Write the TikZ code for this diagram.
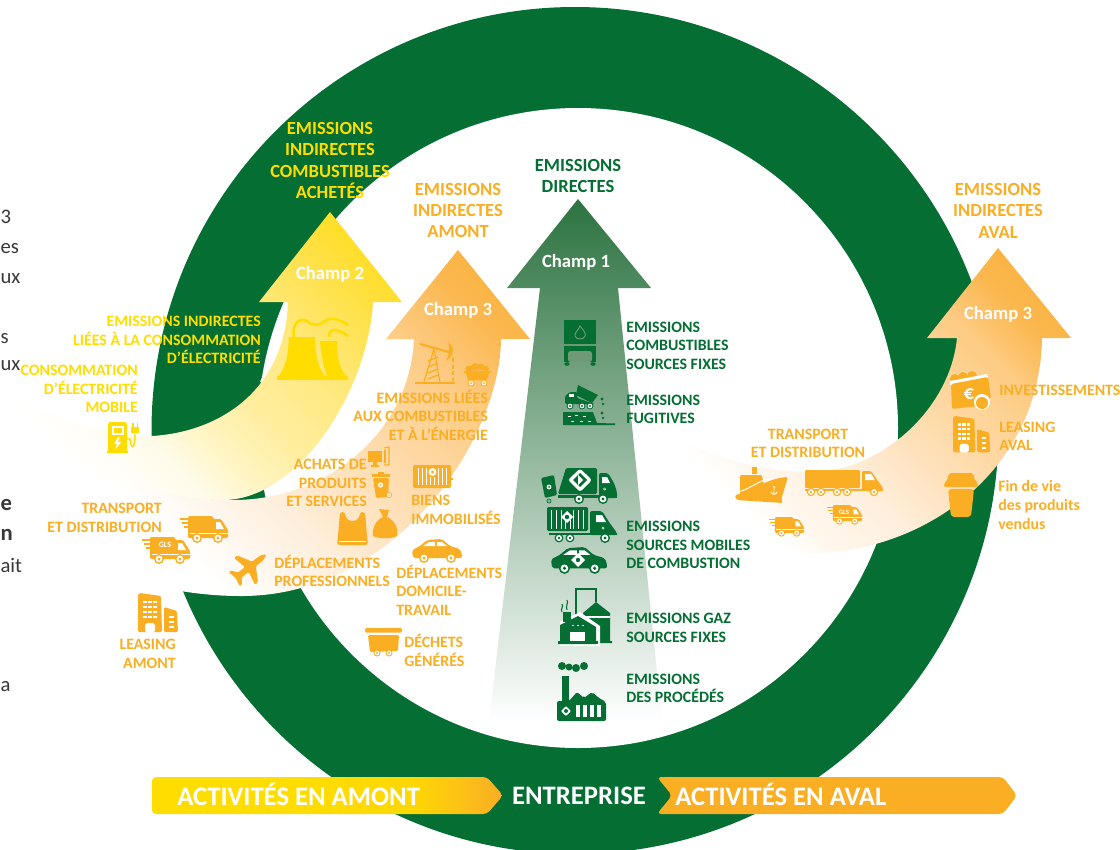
\documentclass[tikz,border=0pt]{standalone}
\usepackage{fontspec}
\setmainfont{Carlito}
\usetikzlibrary{calc}
\definecolor{ringgreen}{HTML}{046E33}
\definecolor{yelc}{HTML}{FFDD00}
\definecolor{orgc}{HTML}{F9AE24}
\definecolor{greentint}{HTML}{6E9A76}
\definecolor{g1}{HTML}{2C7340}\definecolor{g2}{HTML}{97B497}
\definecolor{y1}{HTML}{FFFBEA}\definecolor{y2}{HTML}{FFF4C0}\definecolor{y3}{HTML}{FFEEA0}
\definecolor{y4}{HTML}{FFE878}\definecolor{y5}{HTML}{FFE045}
\definecolor{o1}{HTML}{FFF6EC}\definecolor{o2}{HTML}{FEEFDD}\definecolor{o3}{HTML}{FEDDB0}
\definecolor{o4}{HTML}{FDCC85}\definecolor{o5}{HTML}{FBB850}\definecolor{o6}{HTML}{FAAE30}
\pgfdeclareverticalshading{yelband}{100bp}{color(0bp)=(white); color(26bp)=(white);
  color(36bp)=(y1); color(43bp)=(y2); color(50bp)=(y3); color(62bp)=(y4); color(72bp)=(y5);
  color(85bp)=(yelc); color(100bp)=(yelc)}
\pgfdeclareverticalshading{orgband}{100bp}{color(0bp)=(white); color(33bp)=(white);
  color(39bp)=(o1); color(44bp)=(o2); color(56bp)=(o3); color(68bp)=(o4); color(76bp)=(o5);
  color(86bp)=(o6); color(100bp)=(o6)}
\pgfdeclareverticalshading{orgbandr}{100bp}{color(0bp)=(white); color(29bp)=(white);
  color(34bp)=(o1); color(42bp)=(o2); color(54bp)=(o3); color(67bp)=(o4); color(74bp)=(o5);
  color(85bp)=(o6); color(100bp)=(o6)}
\pgfdeclarehorizontalshading{barfade}{100bp}{color(0bp)=(yelc); color(45bp)=(yelc);
  color(62bp)=(yelc!88!orgc); color(75bp)=(orgc); color(100bp)=(orgc)}
% small drawing helpers for the icons
\newcommand{\wheelat}[3]{\fill (#1,#2) circle (#3); \fill[white] (#1,#2) circle (#3*.68); \fill (#1,#2) circle (#3*.32);}
\newcommand{\badgeat}[3]{\fill[white,rounded corners=.6pt] (#1,#2-#3) -- (#1+#3,#2) -- (#1,#2+#3) -- (#1-#3,#2) -- cycle;
  \fill[ringgreen] (#1,#2) circle (#3*.4);}
\tikzset{
  vanpic/.pic={
    \fill[rounded corners=1pt] (8,0) -- (33,0) -- (33,3) -- (41,3) -- (48,14) -- (48,22) -- (8,22) -- cycle;
    \draw[line width=.8pt] (0,3) -- (9,3) (2,7) -- (9,7) (4,11) -- (9,11);
    \fill[white] (36,6) -- (40,6) -- (44,13) -- (36,13) -- cycle;
    \fill[white] (10,17) rectangle (48,18);
    \wheelat{17}{22}{5} \wheelat{38}{22}{5}
  },
  carpic/.pic={
    \fill[rounded corners=1.5pt] (1,19) -- (0,11) -- (8,7) -- (15,1) -- (30,0) -- (38,7) -- (48,10) -- (50,15) -- (50,19) -- cycle;
    \fill[white] (11,7) -- (17,3) -- (23,3) -- (23,7) -- cycle;
    \fill[white] (25,3) -- (30,3) -- (35,7) -- (25,7) -- cycle;
    \wheelat{12}{19}{5} \wheelat{39}{19}{5}
  },
  buildpic/.pic={
    \fill[rounded corners=1pt] (0,39) -- (0,1) -- (2,0) -- (23,3) -- (24,39) -- cycle;
    \fill[rounded corners=1pt] (26,39) -- (26,14) -- (39,18) -- (40,39) -- cycle;
    \foreach \wy in {8,13,18,23} \foreach \wx in {5,10,15} {\fill[white] (\wx,\wy) rectangle (\wx+3.5,\wy+2.4);}
    \foreach \wy in {23,28,33} {\fill[white] (31,\wy) rectangle (36,\wy+2.2);}
    \fill[white,rounded corners=2pt] (7,39.5) -- (7,30) -- (17,30) -- (17,39.5) -- cycle;
  },
  dumppic/.pic={
    \fill[rounded corners=1pt] (0,0) rectangle (37,4.5);
    \fill[rounded corners=1pt] (3,7) -- (34,7) -- (33,23) -- (5,24) -- cycle;
    \wheelat{12}{25}{3.5} \wheelat{24}{25}{3.5}
  },
  planepic/.pic={
    \fill[rounded corners=1pt] (21,0) -- (15,-2.8) -- (5,-3) -- (-3,-17) -- (-7,-17) -- (-4,-3) -- (-13,-3) -- (-17,-9) -- (-20,-9) -- (-18,0)
      -- (-20,9) -- (-17,9) -- (-13,3) -- (-4,3) -- (-7,17) -- (-3,17) -- (5,3) -- (15,2.8) -- cycle;
  },
  bagpic/.pic={
    \fill[rounded corners=2pt] (3,0) -- (8,0) .. controls (9,11) and (22,11) .. (23,0) -- (28,0) -- (30,24) -- (31,33) -- (0,33) -- (1,24) -- cycle;
    \draw[white,line width=.4pt] (2,29) -- (29,29);
  },
  sackpic/.pic={
    \fill (6,0) -- (16,1) -- (14,8) .. controls (22,11) and (26,21) .. (24,27) .. controls (18,30) and (6,30) .. (0,27) .. controls (-1,19) and (3,11) .. (10,8) -- cycle;
  },
  contpic/.pic={
    \fill[rounded corners=1pt] (0,0) rectangle (38,23);
    \fill (38,13) rectangle (40,15);
    \foreach \cx in {5,9,13,25,29,33} {\fill[white] (\cx,3) rectangle (\cx+1.2,20);}
    \foreach \cx in {17,21} {\fill[white] (\cx,12) rectangle (\cx+1.2,20);}
    \fill[white] (19.5,7) circle (4); \fill (19.5,7) circle (1.6);
  },
  binpic/.pic={
    \fill (0,2) -- (18,2) -- (18,5) -- (0,5) -- cycle;
    \fill (6,0) rectangle (12,2);
    \fill[rounded corners=1pt] (1,6) -- (17,6) -- (16,25) -- (4,26) -- cycle;
    \fill[white] (8.5,13) circle (2.6); \fill (8.5,13) circle (1);
    \wheelat{17}{23}{3}
  },
  comppic/.pic={
    \fill (0,4) rectangle (14,15);
    \fill (5,15) rectangle (9,18);
    \fill (3,18) rectangle (11,19.5);
    \draw[line width=.8pt] (16,1) -- (21,0) -- (21,18) -- (16,18);
    \fill (16,3) rectangle (18,16);
  },
  jackpic/.pic={
    \fill (0,39) rectangle (40,40.5);
    \draw[line width=1.6pt] (5,1) -- (34,9);
    \fill (33,0) .. controls (40,2) and (40,12) .. (31,18) .. controls (35,10) and (35,6) .. (33,0) -- cycle;
    \draw[line width=.9pt] (19,6) -- (9,39) (19,6) -- (25,39);
    \foreach \hy in {14,20,26,32} {\draw[line width=1pt] (13,\hy+4) -- (23,\hy);}
    \draw[line width=1.4pt,densely dashed] (38,15) -- (38,38);
  },
  cartpic/.pic={
    \fill (5,6) circle (3.5); \fill (11,4) circle (4); \fill (17,4) circle (3.5); \fill (22,6) circle (3);
    \fill (0,8) rectangle (27,10);
    \fill (2,10) -- (25,10) -- (23,17) -- (4,17) -- cycle;
    \wheelat{7}{20}{3.4} \wheelat{20}{20}{3.4}
  },
  towerpic/.pic={
    \fill (11.5,22) -- (38,22) .. controls (38,40) and (41,52) .. (48,61) -- (2,61) .. controls (9,50) and (12,38) .. (11.5,22) -- cycle;
    \fill (43,26) -- (60,26) .. controls (60,42) and (62,52) .. (69,61) -- (50,61) .. controls (46,50) and (44,38) .. (43,26) -- cycle;
    \fill (0,61) rectangle (71,65);
    \draw[line width=1.9pt] (17,22) .. controls (14,8) and (24,2) .. (30,6) .. controls (36,11) and (42,11) .. (48,6) .. controls (54,2) and (60,3) .. (71,10);
    \draw[line width=1.9pt] (52,22) .. controls (52,13) and (60,13) .. (71,21);
  },
  chargepic/.pic={
    \fill[rounded corners=2pt] (1,0) rectangle (20,31);
    \fill (0,28.5) rectangle (21,31);
    \fill[white] (4.5,4) rectangle (16.5,13);
    \fill (6.5,6) rectangle (14.5,11);
    \fill[white] (11,15) -- (7,22) -- (10,22) -- (8,28) -- (14,20) -- (11,20) -- (13,15) -- cycle;
    \draw[line width=1.1pt] (20,17) -- (23,17) .. controls (24,28) and (28,28) .. (28,12);
    \fill[rounded corners=.5pt] (24,5) rectangle (32,11);
    \fill (25,1) rectangle (26.5,5); \fill (29.5,1) rectangle (31,5);
  },
  boilpic/.pic={
    \fill (0,0) rectangle (32,24);
    \draw[greentint,line width=.7pt] (16,6) .. controls (20,11) and (22,13) .. (21,16) .. controls (20,20) and (12,20) .. (11,16) .. controls (10,13) and (14,11) .. (16,6) -- cycle;
    \fill (0,26) rectangle (32,42);
    \fill[greentint,rounded corners=2pt] (4,42) -- (4,31) -- (28,31) -- (28,42) -- cycle;
    \fill (3,44) ellipse (2.6 and 1.8); \fill (29,44) ellipse (2.6 and 1.8);
  },
  tipperpic/.pic={
    \fill (15,0) -- (35,10) -- (29,18) -- (13,10) -- cycle;
    \fill[rounded corners=1pt] (2,19) -- (2,11) -- (7,7) -- (14,7) -- (14,13) -- (32,19) -- cycle;
    \fill[white] (6,12) rectangle (11,9);
    \wheelat{7}{21}{3.4} \wheelat{19}{21}{3.4} \wheelat{27}{21}{3.4}
    \fill (0,27) -- (30,27) -- (34,38) -- (52,38.5) -- (52,40) -- (0,40) -- cycle;
    \foreach \dx/\dy in {5/31,12/30,20/31,8/36,17/36,25/36} {\fill[white] (\dx,\dy) rectangle (\dx+3,\dy+.9);}
    \fill (39,14) circle (1.7); \fill (40,19) circle (1.4); \fill (39,28) circle (1.7); \fill (40,33) circle (1.4);
  },
  garbpic/.pic={
    \fill[rounded corners=1pt] (26,0) -- (57,0) -- (57,26) -- (18,26) -- cycle;
    \fill[rounded corners=1.5pt] (59,5) -- (68,5) -- (74,15) -- (77,24) -- (77,30) -- (59,30) -- cycle;
    \fill (18,27) rectangle (77,30);
    \fill[white] (62,9) -- (67,9) -- (70,15) -- (62,15) -- cycle;
    \wheelat{39}{31}{5} \wheelat{63}{31}{5}
    \fill[white,rounded corners=2pt] (40,0.5) -- (52,12) -- (40,24) -- (28,12) -- cycle;
    \fill[ringgreen] (40,5) -- (47,12) -- (40,19) -- (33,12) -- cycle;
    \fill[white] (38,7) -- (38,17) -- (43,12) -- cycle;
    \fill[rounded corners=1pt] (1,10) -- (14,7) -- (17,27) -- (5,30) -- cycle;
    \fill[white] (9,19) circle (2.4); \fill (9,19) circle (1);
    \wheelat{9}{33}{2.4}
    \wheelat{64.5}{21}{2.2}
  },
  conttruckpic/.pic={
    \fill[rounded corners=1pt] (0,0) rectangle (41,24);
    \foreach \cx in {4,9,14,26,31,36} {\fill[white] (\cx,3) rectangle (\cx+1.4,22);}
    \foreach \cx in {18,23} {\fill[white] (\cx,13) rectangle (\cx+1.4,22);}
    \fill[rounded corners=1.5pt] (43,4) -- (55,4) -- (62,15) -- (70,26) -- (70,28) -- (43,28) -- cycle;
    \fill (2,26) rectangle (70,28);
    \fill[white] (49,8) -- (55,8) -- (59,15) -- (49,15) -- cycle;
    \wheelat{12}{31}{4.4} \wheelat{23}{31}{4.4} \wheelat{58}{31}{5}
    \wheelat{56}{21}{2.2}
  },
  gaspic/.pic={
    \draw[line width=1.1pt] (18,30) -- (18,1) -- (38,1) -- (38,14);
    \fill (25,25) -- (38,14) -- (52,25) -- (52,53) -- (54,53) -- (54,55) -- (25,55) -- cycle;
    \fill[white] (25,28) rectangle (52,29.5);
    \fill[white] (2,34) -- (22,24) -- (42,38) -- (42,58) -- (2,58) -- cycle;
    \fill (5,24) rectangle (13,34);
    \fill (2,37) -- (20,28) -- (38,39) -- (38,56) -- (2,56) -- cycle;
    \fill (0,53) rectangle (40,56);
    \fill[white] (12,44) rectangle (27,53);
    \foreach \sx in {14,19,24} {\fill[white] (\sx,36.5) rectangle (\sx+1.5,38);}
    \draw[line width=.8pt] (4,24) .. controls (2,21) and (6,19) .. (4,16) (9,22) .. controls (7,18) and (11,15) .. (9,12);
  },
  factpic/.pic={
    \fill (5,4) circle (4); \fill (12,5) circle (3.5); \fill (19,6) circle (4); \fill (27,4) circle (4);
    \fill (5,14) rectangle (12,44);
    \fill[rounded corners=1.5pt] (0,59) -- (0,39) -- (12,39) -- (20,30) -- (27,36) -- (35,30) -- (42,36) -- (49,40) -- (49,59) -- cycle;
    \badgeat{9}{49}{5}
    \foreach \bx in {19,26,33,40} {\fill[white] (\bx,43) rectangle (\bx+3.5,55);}
  },
  shippic/.pic={
    \fill (17,0) rectangle (22,7);
    \fill[rounded corners=1pt] (5,8) -- (27,8) -- (29,20) -- (5,28) -- cycle;
    \fill[rounded corners=1.5pt] (1,33) -- (0,28) .. controls (16,25) and (30,12) .. (53,10) -- (46,33) -- (48,36) -- cycle;
    \draw[white,line width=.7pt] (1,25.5) .. controls (14,23) and (22,14) .. (36,11);
    \draw[white,line width=.7pt] (39,21) -- (39,27) (36,25) .. controls (37,28) and (41,28) .. (42,25);
    \fill[white] (39,20) circle (1);
  },
  lorrypic/.pic={
    \fill[rounded corners=.8pt] (0,0) rectangle (55,18);
    \fill[rounded corners=1pt] (57,1) -- (66,1) -- (73,11) -- (78,18) -- (78,21) -- (57,21) -- cycle;
    \fill[white] (60,4) -- (66,4) -- (70,10) -- (60,10) -- cycle;
    \fill (0,19) rectangle (78,21);
    \wheelat{6}{22}{4.2} \wheelat{16}{22}{4.2} \wheelat{32}{22}{4.2} \wheelat{42}{22}{4.2} \wheelat{69}{22}{4.2}
  },
  walletpic/.pic={
    \fill (5,6) circle (5); \fill (13,4) circle (5); \fill (22,3) circle (5);
    \fill[white] (0,8) -- (37,1) -- (38,5) -- (0,12) -- cycle;
    \fill[rounded corners=1.5pt] (1,11) -- (38,4) -- (41,25) -- (30,26) -- (28,33) -- (2,36) -- cycle;
    \fill[white] (32,29) circle (8);
    \fill (32,30) circle (6);
    \node[inner sep=0pt,text=white,font=\fontsize{15}{15}\selectfont\bfseries] (euro) at (19,21) {€};
  },
  cuppic/.pic={
    \fill[rounded corners=1.5pt] (5,0) -- (29,0) -- (31,8) -- (34,10) -- (34,14) -- (0,14) -- (0,10) -- (3,8) -- cycle;
    \fill[rounded corners=2.5pt] (4,16) -- (30,16) -- (27,44) -- (7,44) -- cycle;
  }
}
\begin{document}
\begin{tikzpicture}[x=.75pt,y=-.75pt,
  hdtxt/.style={font=\fontsize{13.9}{16.1}\selectfont\bfseries, align=center, inner sep=0pt},
  lbl/.style={font=\fontsize{11.9}{13.9}\selectfont\bfseries, inner sep=0pt},
  lblr/.style={lbl, anchor=east, align=right},
  lbll/.style={lbl, anchor=west, align=left},
  champ/.style={font=\fontsize{14}{16}\selectfont\bfseries, text=white, inner sep=0pt},
  bartxt/.style={font=\fontsize{20}{22}\selectfont\bfseries, text=white, inner sep=0pt},
  pagetxt/.style={font=\fontsize{15.5}{18}\selectfont, text=black!78, anchor=west, inner sep=0pt},
  pagebf/.style={pagetxt, font=\fontsize{17}{20}\selectfont\bfseries}
]
  \useasboundingbox (0,0) rectangle (1120,849);
  \clip (0,0) rectangle (1120,849);

  % ring
  \fill[ringgreen] (575,430.5) circle (423.5);
  \fill[white] (578,428) circle (320);

  % arrows
  \shade[top color=g1, middle color=g2, bottom color=white]
    (578,199) -- (651,288) -- (618,288) -- (662,722) -- (489,722) -- (540,288) -- (507,288) -- cycle;
  \fill[white] (287,302) .. controls (282,325) and (272,355) .. (260,382) -- (292,382) -- cycle;
  \shade[shading=yelband, shading angle=-45]
    (330,212) -- (402,302) -- (373,302) .. controls (368,390) and (300,498) .. (225,500)
    .. controls (150,500) and (60,470) .. (0,430) -- (0,385)
    .. controls (50,420) and (110,437) .. (152,436) .. controls (220,432) and (285,390) .. (288,302)
    -- (259,302) -- cycle;
  \shade[shading=orgband, shading angle=-45]
    (458,250) -- (530,339) -- (501,339) .. controls (500,440) and (395,597) .. (240,596)
    .. controls (150,596) and (60,560) .. (0,510) -- (0,430)
    .. controls (60,470) and (160,500) .. (233,500) .. controls (330,500) and (410,430) .. (414,339)
    -- (386,339) -- cycle;
  \shade[shading=orgbandr, shading angle=-45]
    (998,248) -- (1071,338) -- (1042,338) .. controls (1040,470) and (925,553) .. (810,553)
    .. controls (750,553) and (690,530) .. (640,490) -- (640,420)
    .. controls (700,455) and (760,472) .. (810,472) .. controls (880,472) and (950,410) .. (957,338)
    -- (927,338) -- cycle;

  % the text of the page, cut by the picture
  \node[pagetxt] (pa) at (.3,217) {3};
  \node[pagetxt] (pb) at (.3,249) {es};
  \node[pagetxt] (pc) at (.3,279) {ux};
  \node[pagetxt] (pd) at (.3,339) {s};
  \node[pagetxt] (pe) at (.3,366) {ux};
  \node[pagebf] (pf) at (.3,505) {e};
  \node[pagebf] (pg) at (.3,535) {n};
  \node[pagetxt] (ph) at (.3,565) {ait};
  \node[pagetxt] (pi) at (.3,687) {a};

  % yellow icons and texts
  \pic[color=yelc] at (277,315) {towerpic};
  \pic[color=yelc] at (107,422) {chargepic};
  \node[hdtxt,text=yelc] (ind2) at (330,160.5) {EMISSIONS\\INDIRECTES\\COMBUSTIBLES\\ACHETÉS};
  \node[champ] (ch2) at (330,274.5) {Champ 2};
  \node[lblr,text=yelc] (elec) at (261,340) {EMISSIONS INDIRECTES\\LIÉES À LA CONSOMMATION\\D’ÉLECTRICITÉ};
  \node[lblr,text=yelc] (mob) at (138,389) {CONSOMMATION\\D’ÉLECTRICITÉ\\MOBILE};

  % orange, left
  \pic[color=orgc] at (415,343) {jackpic};
  \pic[color=orgc] at (464,363) {cartpic};
  \pic[color=orgc] at (368,447) {comppic};
  \pic[color=orgc] at (372,472) {binpic};
  \pic[color=orgc] at (413,465) {contpic};
  \pic[color=orgc] at (337,512) {bagpic};
  \pic[color=orgc] at (373,509) {sackpic};
  \pic[color=orgc] at (412,539) {carpic};
  \pic[color=orgc] at (180,516) {vanpic};
  \pic[color=orgc] at (142,537) {vanpic};
  \node[inner sep=0pt,text=white,font=\fontsize{6}{6}\selectfont\bfseries] (glsa) at (165,545) {GLS};
  \pic[color=orgc,rotate=38] at (250,567) {planepic};
  \pic[color=orgc] at (138,593) {buildpic};
  \pic[color=orgc] at (365,628) {dumppic};
  \node[hdtxt,text=orgc] (ind3) at (458,210.5) {EMISSIONS\\INDIRECTES\\AMONT};
  \node[champ] (ch3) at (458,310.5) {Champ 3};
  \node[lblr,text=orgc] (comb) at (488,415) {EMISSIONS LIÉES\\AUX COMBUSTIBLES\\ET À L’ÉNERGIE};
  \node[lblr,text=orgc] (achat) at (367,483) {ACHATS DE\\PRODUITS\\ET SERVICES};
  \node[lbll,text=orgc] (biens) at (411,510) {BIENS\\IMMOBILISÉS};
  \node[lblr,text=orgc] (trsp) at (162,518) {TRANSPORT\\ET DISTRIBUTION};
  \node[lbll,text=orgc] (pro) at (274,571) {DÉPLACEMENTS\\PROFESSIONNELS};
  \node[lbll,text=orgc] (dom) at (396,590) {DÉPLACEMENTS\\DOMICILE-\\TRAVAIL};
  \node[lbll,text=orgc] (dech) at (404,650.5) {DÉCHETS\\GÉNÉRÉS};
  \node[lblr,text=orgc] (lsa) at (176,654) {LEASING\\AMONT};

  % green, centre
  \pic[color=ringgreen] at (564,320) {boilpic};
  \pic[color=ringgreen] at (563,385) {tipperpic};
  \pic[color=ringgreen] at (540,468) {garbpic};
  \pic[color=ringgreen] at (547,507) {conttruckpic};
  \fill[white] (567,511) -- (573,517) -- (567,523) -- (561,517) -- cycle;
  \fill[ringgreen] (567,517) circle (2.2);
  \pic[color=ringgreen,scale=1.12] at (551,547) {carpic};
  \fill[white] (578,553) -- (585,560) -- (578,567) -- (571,560) -- cycle;
  \fill[ringgreen] (578,560) circle (2.2);
  \pic[color=ringgreen] at (558,588) {gaspic};
  \pic[color=ringgreen] at (557,662) {factpic};
  \node[hdtxt,text=ringgreen] (dir) at (578,176) {EMISSIONS\\DIRECTES};
  \node[champ] (ch1) at (576,262) {Champ 1};
  \node[lbll,text=ringgreen] (fix) at (626,345.5) {EMISSIONS\\COMBUSTIBLES\\SOURCES FIXES};
  \node[lbll,text=ringgreen] (fug) at (626,409.5) {EMISSIONS\\FUGITIVES};
  \node[lbll,text=ringgreen] (mobi) at (626,545) {EMISSIONS\\SOURCES MOBILES\\DE COMBUSTION};
  \node[lbll,text=ringgreen] (gaz) at (626,628) {EMISSIONS GAZ\\SOURCES FIXES};
  \node[lbll,text=ringgreen] (proc) at (626,688.5) {EMISSIONS\\DES PROCÉDÉS};

  % orange, right
  \pic[color=orgc] at (735,467) {shippic};
  \pic[color=orgc] at (805,470) {lorrypic};
  \pic[color=orgc,scale=.73] at (769,517) {vanpic};
  \pic[color=orgc,scale=.73] at (827,505) {vanpic};
  \node[inner sep=0pt,text=white,font=\fontsize{5}{5}\selectfont\bfseries] (glsb) at (844,512) {GLS};
  \pic[color=orgc] at (950,373) {walletpic};
  \pic[color=orgc,scale=.93] at (953,416) {buildpic};
  \pic[color=orgc] at (944,473) {cuppic};
  \node[hdtxt,text=orgc] (ind4) at (998,210.5) {EMISSIONS\\INDIRECTES\\AVAL};
  \node[champ] (ch4) at (998,314.5) {Champ 3};
  \node[lbl,align=center,text=orgc] (trsr) at (808,443.5) {TRANSPORT\\ET DISTRIBUTION};
  \node[lbll,text=orgc] (inv) at (999,390) {INVESTISSEMENTS};
  \node[lbll,text=orgc] (lsb) at (999,436.5) {LEASING\\AVAL};
  \node[lbll,text=orgc] (fin) at (998,505) {Fin de vie\\des produits\\vendus};

  % bottom bar
  \shade[shading=barfade, rounded corners=3pt]
    (152,777) -- (487,777) -- (503,795.5) -- (487,814) -- (152,814) -- cycle;
  \fill[orgc, rounded corners=3pt]
    (657,777) -- (1003,777) -- (1017,795.5) -- (1003,814) -- (657,814) -- (672,795.5) -- cycle;
  \node[bartxt,anchor=west] (up) at (177,794) {ACTIVITÉS EN AMONT};
  \node[bartxt] (ent) at (579,796) {ENTREPRISE};
  \node[bartxt,anchor=west] (down) at (675,794) {ACTIVITÉS EN AVAL};
\end{tikzpicture}
\end{document}
